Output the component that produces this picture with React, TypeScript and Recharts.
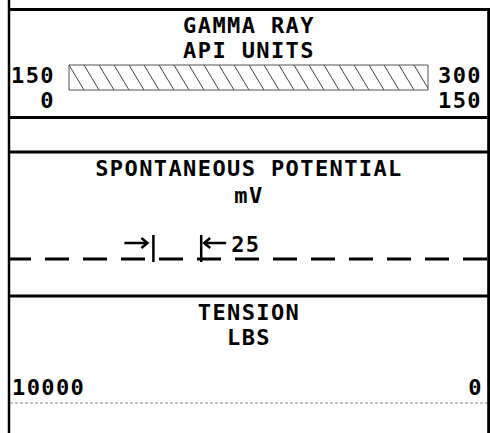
import { ComposedChart, Line, ReferenceArea, XAxis, YAxis } from 'recharts'

// log header scales
const gammaTitle = ['GAMMA RAY', 'API UNITS']
const gammaPrimary = [0, 150]
const gammaBackup = [150, 300]

const spTitle = ['SPONTANEOUS POTENTIAL', 'mV']
const spDomain = [0, 250]
const spMarkers = [75, 100]

const tensionTitle = ['TENSION', 'LBS']
const tensionScale = [10000, 0]

const W = 490
const ink = '#000'
const mono = {
  fontFamily: '"DejaVu Sans Mono", monospace',
  fontWeight: 700,
  fontSize: 22,
  letterSpacing: 1.4,
}

function Title({ lines, ys }: { lines: string[]; ys: number[] }) {
  return (
    <g>
      {lines.map((t, i) => (
        <text key={t} x={249} y={ys[i]} textAnchor="middle" fill={ink} style={mono}>
          {t}
        </text>
      ))}
    </g>
  )
}

function GammaTick(props: any) {
  const { x, payload } = props
  const i = gammaPrimary.indexOf(payload.value)
  const tx = i === 0 ? x - 14 : x + 54
  return (
    <g>
      <text x={tx} y={73} textAnchor="end" fill={ink} style={mono}>
        {gammaBackup[i]}
      </text>
      <text x={tx} y={98} textAnchor="end" fill={ink} style={mono}>
        {payload.value}
      </text>
    </g>
  )
}

function SpTick(props: any) {
  const { x, payload } = props
  const ay = 90
  if (payload.value === spMarkers[0]) {
    return (
      <g stroke={ink} strokeWidth={2.5} fill="none">
        <line x1={x} y1={82} x2={x} y2={109} />
        <line x1={x - 29} y1={ay} x2={x - 6} y2={ay} />
        <path d={`M${x - 12},${ay - 5} L${x - 6},${ay} L${x - 12},${ay + 5}`} />
      </g>
    )
  }
  const step = spMarkers[1] - spMarkers[0]
  return (
    <g>
      <g stroke={ink} strokeWidth={2.5} fill="none">
        <line x1={x} y1={82} x2={x} y2={109} />
        <line x1={x + 3} y1={ay} x2={x + 25} y2={ay} />
        <path d={`M${x + 9},${ay - 5} L${x + 3},${ay} L${x + 9},${ay + 5}`} />
      </g>
      <text x={x + 30} y={99} fill={ink} style={mono}>
        {step}
      </text>
    </g>
  )
}

function TensionTick(props: any) {
  const { x, payload } = props
  const atLeft = x < W / 2
  return (
    <text
      x={atLeft ? x + 2 : x - 5}
      y={98}
      textAnchor={atLeft ? 'start' : 'end'}
      fill={ink}
      style={mono}
    >
      {payload.value}
    </text>
  )
}

function Frame() {
  const rows = [9.5, 117.5, 152, 296]
  return (
    <svg
      width={W}
      height={433}
      style={{ position: 'absolute', left: 0, top: 0, pointerEvents: 'none' }}
    >
      <line x1={9} y1={0} x2={9} y2={433} stroke={ink} strokeWidth={2.5} />
      <line x1={488.7} y1={8} x2={488.7} y2={433} stroke={ink} strokeWidth={3} />
      {rows.map((y) => (
        <line key={y} x1={8} y1={y} x2={W} y2={y} stroke={ink} strokeWidth={3} />
      ))}
    </svg>
  )
}

export default function App() {
  // each track row sits on the middle of its hidden y band
  const gammaRows = gammaPrimary.map((v, i) => ({ primary: v, backup: gammaBackup[i], band: 0.5 }))
  const spRows = spMarkers.map((v) => ({ mv: v, band: 0.5 }))
  const tensionRows = tensionScale.map((v) => ({ lbs: v, band: 0.5 }))

  return (
    <div
      style={{
        position: 'absolute',
        left: 0,
        top: 0,
        width: W,
        height: 433,
        background: '#fff',
        overflow: 'hidden',
      }}
    >
      <div style={{ position: 'absolute', left: 0, top: 10 }}>
        <ComposedChart
          width={W}
          height={107}
          data={gammaRows}
          margin={{ top: 55, right: 62, bottom: 26, left: 69 }}
        >
          <defs>
            <pattern id="grHatch" patternUnits="userSpaceOnUse" x={69} y={55} width={15} height={25}>
              <path d="M0,0 L15,25 M-15,0 L0,25 M15,0 L30,25" stroke="#444" strokeWidth={1} />
            </pattern>
          </defs>
          <Title lines={gammaTitle} ys={[23, 48]} />
          <XAxis
            dataKey="primary"
            type="number"
            domain={gammaPrimary}
            ticks={gammaPrimary}
            interval={0}
            height={1}
            axisLine={false}
            tickLine={false}
            tick={<GammaTick />}
          />
          <YAxis hide type="number" domain={[0, 1]} />
          <ReferenceArea
            x1={gammaPrimary[0]}
            x2={gammaPrimary[1]}
            y1={0}
            y2={1}
            fill="url(#grHatch)"
            fillOpacity={1}
            stroke="#555"
            strokeWidth={1}
          />
          <Line dataKey="band" stroke="none" dot={false} isAnimationActive={false} />
        </ComposedChart>
      </div>

      <div style={{ position: 'absolute', left: 0, top: 153 }}>
        <ComposedChart
          width={W}
          height={143}
          data={spRows}
          margin={{ top: 77, right: 2, bottom: 36, left: 10 }}
        >
          <Title lines={spTitle} ys={[23, 50]} />
          <XAxis
            dataKey="mv"
            type="number"
            domain={spDomain}
            ticks={spMarkers}
            interval={0}
            height={1}
            axisLine={{ stroke: ink, strokeWidth: 3, strokeDasharray: '24 14', strokeDashoffset: 3 }}
            tickLine={false}
            tick={<SpTick />}
          />
          <YAxis hide type="number" domain={[0, 1]} />
          <Line dataKey="band" stroke="none" dot={false} isAnimationActive={false} />
        </ComposedChart>
      </div>

      <div style={{ position: 'absolute', left: 0, top: 297 }}>
        <ComposedChart
          width={W}
          height={136}
          data={tensionRows}
          margin={{ top: 80, right: 2, bottom: 29, left: 10 }}
        >
          <Title lines={tensionTitle} ys={[23, 48]} />
          <XAxis
            dataKey="lbs"
            type="number"
            domain={[0, 10000]}
            reversed
            ticks={tensionScale}
            interval={0}
            height={1}
            axisLine={{ stroke: '#888', strokeWidth: 1, strokeDasharray: '3 2' }}
            tickLine={false}
            tick={<TensionTick />}
          />
          <YAxis hide type="number" domain={[0, 1]} />
          <Line dataKey="band" stroke="none" dot={false} isAnimationActive={false} />
        </ComposedChart>
      </div>

      <Frame />
    </div>
  )
}
